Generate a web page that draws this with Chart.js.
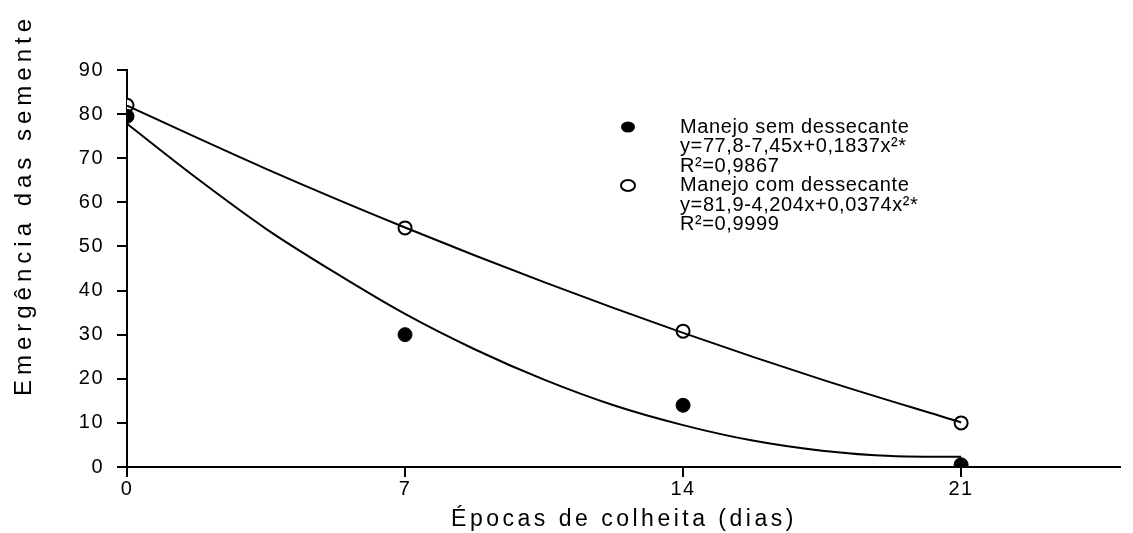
<!DOCTYPE html>
<html>
<head>
<meta charset="utf-8">
<script src="https://cdn.jsdelivr.net/npm/chart.js@4"></script>
<style>
  html, body { margin: 0; padding: 0; background: #fff; }
  #wrap { width: 1133px; height: 533px; }
</style>
</head>
<body>
<div id="wrap"><canvas id="chart" width="1133" height="533"></canvas></div>
<script>
// observed points
const epocas = [0, 7, 14, 21]
const semDessecante = [79.5, 30, 14, 0.5]
const comDessecante = [82, 54.2, 30.8, 10]

// fitted curves
const curvaSemX = [0, 1.75, 3.5, 5.25, 7, 8.75, 10.5, 12.25, 14, 15.75, 17.5, 19.25, 21]
const curvaSemY = [77.8, 65.5, 54, 44, 34.7, 26.7, 19.8, 14, 9.5, 6, 3.7, 2.5, 2.3]
const curvaComX = [0, 3.5, 7, 10.5, 14, 17.5, 21]
const curvaComY = [81.9, 67.6, 54.3, 41.9, 30.4, 19.8, 10.1]

const xTicks = [0, 7, 14, 21]
const yTicks = [0, 10, 20, 30, 40, 50, 60, 70, 80, 90]

const legendLines = [
    ['Manejo sem dessecante', 'y=77,8-7,45x+0,1837x²*', 'R²=0,9867'],
    ['Manejo com dessecante', 'y=81,9-4,204x+0,0374x²*', 'R²=0,9999']
]

const FONT = '"Liberation Sans", Arial, sans-serif'

function pts(xs, ys) {
    return xs.map(function(x, i) { return { x: x, y: ys[i] } })
}

// titles + legend drawn by hand
const extras = {
    id: 'extras',
    beforeDraw(chart) {
        // the original text is a bit spread out
        chart.ctx.letterSpacing = '1.5px'
    },
    afterDraw(chart) {
        const ctx = chart.ctx
        ctx.save()
        ctx.fillStyle = '#000'

        // y title
        ctx.font = '24px ' + FONT
        ctx.letterSpacing = '5px'
        ctx.translate(24, 205)
        ctx.rotate(-Math.PI / 2)
        ctx.textAlign = 'center'
        ctx.textBaseline = 'middle'
        ctx.fillText('Emergência das semente', 0, 0)
        ctx.setTransform(1, 0, 0, 1, 0, 0)

        // x title
        ctx.font = '23px ' + FONT
        ctx.letterSpacing = '3.5px'
        ctx.textAlign = 'center'
        ctx.textBaseline = 'middle'
        ctx.fillText('Épocas de colheita (dias)', 624, 520)

        // legend
        ctx.font = '20px ' + FONT
        ctx.letterSpacing = '0.6px'
        ctx.textAlign = 'left'
        const lineH = 19.5
        let y = 127
        legendLines.forEach(function(lines, k) {
            ctx.beginPath()
            ctx.ellipse(628, y, 7, 5.5, 0, 0, Math.PI * 2)
            if (k === 0) {
                ctx.fill()
            } else {
                ctx.fillStyle = '#fff'
                ctx.fill()
                ctx.lineWidth = 2
                ctx.strokeStyle = '#000'
                ctx.stroke()
                ctx.fillStyle = '#000'
            }
            lines.forEach(function(t) {
                ctx.fillText(t, 680, y)
                y += lineH
            })
        })
        ctx.restore()
    }
}

const chart = new Chart(document.getElementById('chart'), {
    type: 'scatter',
    data: {
        datasets: [
            {
                label: 'curva sem',
                data: pts(curvaSemX, curvaSemY),
                showLine: true,
                borderColor: '#000',
                borderWidth: 2,
                pointRadius: 0,
                cubicInterpolationMode: 'monotone'
            },
            {
                label: 'curva com',
                data: pts(curvaComX, curvaComY),
                showLine: true,
                borderColor: '#000',
                borderWidth: 2,
                pointRadius: 0,
                cubicInterpolationMode: 'monotone'
            },
            {
                label: 'Manejo sem dessecante',
                data: pts(epocas, semDessecante),
                pointRadius: 7,
                pointBackgroundColor: '#000',
                pointBorderColor: '#000',
                pointBorderWidth: 1
            },
            {
                label: 'Manejo com dessecante',
                data: pts(epocas, comDessecante),
                pointRadius: 6.5,
                pointBackgroundColor: '#fff',
                pointBorderColor: '#000',
                pointBorderWidth: 2
            }
        ]
    },
    options: {
        responsive: false,
        animation: false,
        layout: { padding: { top: 70, right: 13, left: 0, bottom: 0 } },
        plugins: {
            legend: { display: false },
            tooltip: { enabled: false }
        },
        scales: {
            x: {
                type: 'linear',
                min: 0,
                max: 25,
                afterBuildTicks: function(s) { s.ticks = xTicks.map(function(v) { return { value: v } }) },
                afterFit: function(s) { s.height = 66 },
                grid: { drawOnChartArea: false, tickLength: 10, color: '#000', lineWidth: 2 },
                border: { display: true, color: '#000', width: 2 },
                ticks: { color: '#000', font: { family: FONT, size: 20 }, padding: 0, maxRotation: 0 }
            },
            y: {
                type: 'linear',
                min: 0,
                max: 90,
                afterBuildTicks: function(s) { s.ticks = yTicks.map(function(v) { return { value: v } }) },
                afterFit: function(s) { s.width = 127 },
                grid: { drawOnChartArea: false, tickLength: 10, color: '#000', lineWidth: 2 },
                border: { display: true, color: '#000', width: 2 },
                ticks: { color: '#000', font: { family: FONT, size: 20 }, padding: 13 }
            }
        }
    },
    plugins: [extras]
})
</script>
</body>
</html>
